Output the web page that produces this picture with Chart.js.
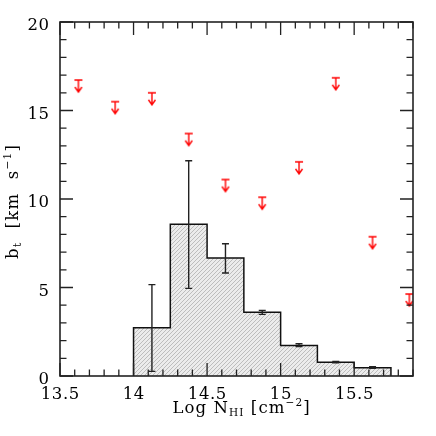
<!DOCTYPE html>
<html><head><meta charset="utf-8">
<script src="https://cdn.jsdelivr.net/npm/chart.js@4"></script>
<style>html,body{margin:0;padding:0;background:#fff}#c{display:block}</style>
</head><body>
<canvas id="c" width="436" height="436"></canvas>
<script>
// ---- data ----
const binEdges = [14.0, 14.25, 14.5, 14.75, 15.0, 15.25, 15.5, 15.75];
const binHeights = [2.73, 8.57, 6.67, 3.6, 1.73, 0.77, 0.47];
const errX = [14.125, 14.375, 14.625, 14.875, 15.125, 15.375, 15.625];
const errLow = [0.26, 4.95, 5.82, 3.48, 1.66, 0.75, 0.44];
const errHigh = [5.16, 12.16, 7.47, 3.71, 1.82, 0.82, 0.53];
const limitX = [13.625, 13.875, 14.125, 14.375, 14.625, 14.875, 15.125, 15.375, 15.625, 15.875];
const limitY = [16.72, 15.5, 16.0, 13.7, 11.1, 10.1, 12.1, 16.85, 7.87, 4.63];
const xTicks = [13.5, 14, 14.5, 15, 15.5];
const yTicks = [0, 5, 10, 15, 20];
const xTickLabels = ['13.5', '14', '14.5', '15', '15.5'];
const yTickLabels = ['0', '5', '10', '15', '20'];

const FONT = '"DejaVu Serif", "Liberation Serif", serif';

// histogram step outline built from the bins
const stepPts = [];
stepPts.push({x: binEdges[0], y: 0});
binHeights.forEach((h, i) => {
  stepPts.push({x: binEdges[i], y: h});
  stepPts.push({x: binEdges[i + 1], y: h});
});
stepPts.push({x: binEdges[binEdges.length - 1], y: 0});

// hatch pattern
const pc = document.createElement('canvas');
pc.width = 4; pc.height = 4;
const pctx = pc.getContext('2d');
pctx.fillStyle = '#ececec'; pctx.fillRect(0, 0, 4, 4);
pctx.fillStyle = '#bdbdbd';
for (let i = 0; i < 4; i++) pctx.fillRect(i, 3 - i, 1, 1);
const hatch = pctx.createPattern(pc, 'repeat');

// upper-limit arrow symbol (bar at image centre)
function arrowImage() {
  const c = document.createElement('canvas');
  c.width = 12; c.height = 30;
  const g = c.getContext('2d');
  g.strokeStyle = '#ff0000'; g.lineWidth = 1.4;
  g.beginPath();
  g.moveTo(2, 15); g.lineTo(10, 15);
  g.moveTo(6, 15); g.lineTo(6, 27);
  g.moveTo(2.5, 22); g.lineTo(6, 27); g.lineTo(9.5, 22);
  g.stroke();
  return c;
}
const arrowImg = arrowImage();

function spacedText(ctx, txt, x, y, align, sp) {
  ctx.letterSpacing = sp + 'px';
  const w = ctx.measureText(txt).width - sp;
  let sx = x;
  if (align === 'center') sx = x - w / 2;
  else if (align === 'right') sx = x - w;
  ctx.textAlign = 'left';
  ctx.fillText(txt, sx, y);
  ctx.letterSpacing = '0px';
}

function drawParts(ctx, parts, cx, by, sp) {
  let w = 0;
  parts.forEach(p => { ctx.font = p.f; ctx.letterSpacing = sp + 'px'; p.w = ctx.measureText(p.t).width; w += p.w; });
  w -= sp;
  let x = cx - w / 2;
  ctx.textAlign = 'left';
  parts.forEach(p => { ctx.font = p.f; ctx.letterSpacing = sp + 'px'; ctx.fillText(p.t, x, by + p.dy); x += p.w; });
  ctx.letterSpacing = '0px';
}

const framePlugin = {
  id: 'frame',
  afterDatasetsDraw(chart) {
    const {ctx, chartArea: a, scales: {x, y}} = chart;
    ctx.save();
    // error bars
    ctx.strokeStyle = '#222'; ctx.lineWidth = 1.4;
    errX.forEach((xv, i) => {
      const px = x.getPixelForValue(xv);
      const p1 = y.getPixelForValue(errLow[i]);
      const p2 = y.getPixelForValue(errHigh[i]);
      ctx.beginPath();
      ctx.moveTo(px, p1); ctx.lineTo(px, p2);
      ctx.moveTo(px - 3.5, p1); ctx.lineTo(px + 3.5, p1);
      ctx.moveTo(px - 3.5, p2); ctx.lineTo(px + 3.5, p2);
      ctx.stroke();
    });
    // frame
    ctx.strokeStyle = '#222'; ctx.lineWidth = 1.6;
    ctx.strokeRect(a.left, a.top, a.right - a.left, a.bottom - a.top);
    // ticks
    ctx.lineWidth = 1.3;
    ctx.beginPath();
    for (let k = 135; k <= 159; k++) {
      const v = k / 10;
      const px = x.getPixelForValue(v);
      const len = (k % 5 === 0) ? 13 : 6.5;
      ctx.moveTo(px, a.bottom); ctx.lineTo(px, a.bottom - len);
      ctx.moveTo(px, a.top); ctx.lineTo(px, a.top + len);
    }
    for (let v = 0; v <= 20; v++) {
      const py = y.getPixelForValue(v);
      const len = (v % 5 === 0) ? 13 : 6.5;
      ctx.moveTo(a.left, py); ctx.lineTo(a.left + len, py);
      ctx.moveTo(a.right, py); ctx.lineTo(a.right - len, py);
    }
    ctx.stroke();
    ctx.restore();
  },
  afterDraw(chart) {
    const {ctx, chartArea: a, scales: {x, y}} = chart;
    ctx.save();
    ctx.fillStyle = '#000';
    ctx.textBaseline = 'alphabetic';
    // tick labels
    ctx.font = '16.5px ' + FONT;
    xTicks.forEach((v, i) => {
      spacedText(ctx, xTickLabels[i], x.getPixelForValue(v), a.bottom + 22.5, 'center', 0.6);
    });
    yTicks.forEach((v, i) => {
      spacedText(ctx, yTickLabels[i], 49, y.getPixelForValue(v) + 8, 'right', 0.6);
    });
    // x title
    const big = '16.5px ' + FONT, small = '10.5px ' + FONT;
    drawParts(ctx, [
      {t: 'Log N', f: big, dy: 0},
      {t: 'HI', f: small, dy: 3},
      {t: ' [cm', f: big, dy: 0},
      {t: '\u22122', f: small, dy: -7},
      {t: ']', f: big, dy: 0}
    ], 241, 413, 1.1);
    // y title
    ctx.translate(18, 202);
    ctx.rotate(-Math.PI / 2);
    drawParts(ctx, [
      {t: 'b', f: big, dy: 0},
      {t: 't', f: small, dy: 3},
      {t: '  [km  s', f: big, dy: 0},
      {t: '\u22121', f: small, dy: -7},
      {t: ']', f: big, dy: 0}
    ], 0, 0, 1.3);
    ctx.restore();
  }
};

new Chart(document.getElementById('c'), {
  type: 'scatter',
  data: {
    datasets: [
      {
        type: 'line',
        data: stepPts,
        borderColor: '#111',
        borderWidth: 1.5,
        backgroundColor: hatch,
        fill: 'origin',
        pointRadius: 0,
        tension: 0,
        order: 2
      },
      {
        type: 'scatter',
        data: limitX.map((v, i) => ({x: v, y: limitY[i]})),
        pointStyle: arrowImg,
        pointRadius: 6,
        order: 1
      }
    ]
  },
  options: {
    responsive: false,
    animation: false,
    layout: {padding: {top: 22, right: 23, left: 0, bottom: 0}},
    plugins: {legend: {display: false}, tooltip: {enabled: false}},
    scales: {
      x: {
        type: 'linear', min: 13.5, max: 15.9,
        afterBuildTicks: s => { s.ticks = xTicks.map(v => ({value: v})); },
        afterFit: s => { s.height = 60; },
        grid: {display: false},
        border: {display: false},
        ticks: {display: false}
      },
      y: {
        type: 'linear', min: 0, max: 20,
        afterBuildTicks: s => { s.ticks = yTicks.map(v => ({value: v})); },
        afterFit: s => { s.width = 60; },
        grid: {display: false},
        border: {display: false},
        ticks: {display: false}
      }
    }
  },
  plugins: [framePlugin]
});
</script>
</body></html>
